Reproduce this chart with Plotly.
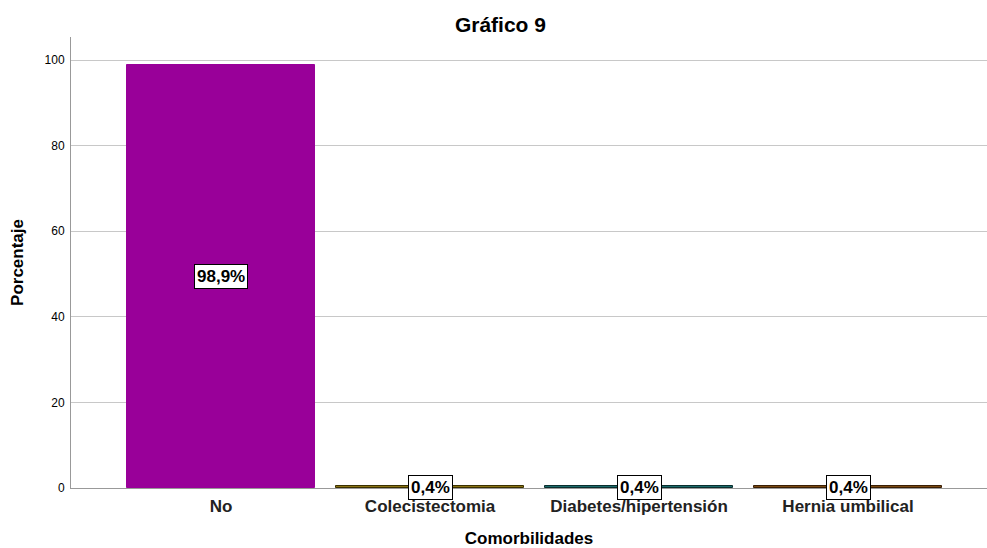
import plotly.graph_objects as go

categories = ["No", "Colecistectomia", "Diabetes/hipertensión", "Hernia umbilical"]
values = [98.9, 0.4, 0.4, 0.4]
labels = ["98,9%", "0,4%", "0,4%", "0,4%"]
colors = ["#990099", "#8a7414", "#1b6b6b", "#7a4a12"]
outlines = ["#990099", "#3a3000", "#0a2e2e", "#3a1f05"]
y_ticks = [0, 20, 40, 60, 80, 100]

fig = go.Figure()
fig.add_trace(go.Bar(
    x=list(range(len(categories))), y=values, width=0.9,
    marker=dict(color=colors, line=dict(color=outlines, width=1)),
    hoverinfo="skip",
))

for i, (v, lab) in enumerate(zip(values, labels)):
    fig.add_annotation(
        x=i, y=v / 2, text="<b>" + lab + "</b>", showarrow=False,
        font=dict(family="Liberation Sans, Arial", size=17, color="black"),
        bgcolor="white", bordercolor="black", borderwidth=1, borderpad=2,
    )

fig.update_layout(
    width=987, height=548,
    margin=dict(l=71, r=0, t=37, b=60),
    paper_bgcolor="white", plot_bgcolor="white",
    font=dict(family="Liberation Sans, Arial", color="black"),
    title=dict(text="<b>Gráfico 9</b>", x=0.507, xanchor="center", y=0.955, yanchor="middle",
               font=dict(size=21, color="black")),
    showlegend=False,
    bargap=0,
)
fig.update_xaxes(
    range=[-0.718, 3.665],
    tickmode="array", tickvals=list(range(len(categories))),
    ticktext=["<b>" + c + "</b>" for c in categories],
    tickfont=dict(size=17, color="#222222"),
    ticklabelstandoff=3,
    showline=True, linecolor="#999999", linewidth=1,
    showgrid=False, zeroline=False, ticks="",
    title=dict(text="<b>Comorbilidades</b>", font=dict(size=17), standoff=16),
)
fig.update_yaxes(
    range=[0, 105.4],
    tickmode="array", tickvals=y_ticks,
    tickfont=dict(size=12, color="black"),
    showline=True, linecolor="#999999", linewidth=1,
    showgrid=True, gridcolor="#c8c8c8", gridwidth=1,
    zeroline=False, ticks="outside", ticklen=3, tickcolor="white",
    title=dict(text="<b>Porcentaje</b>", font=dict(size=17), standoff=16),
)

fig.write_html("out.html")
